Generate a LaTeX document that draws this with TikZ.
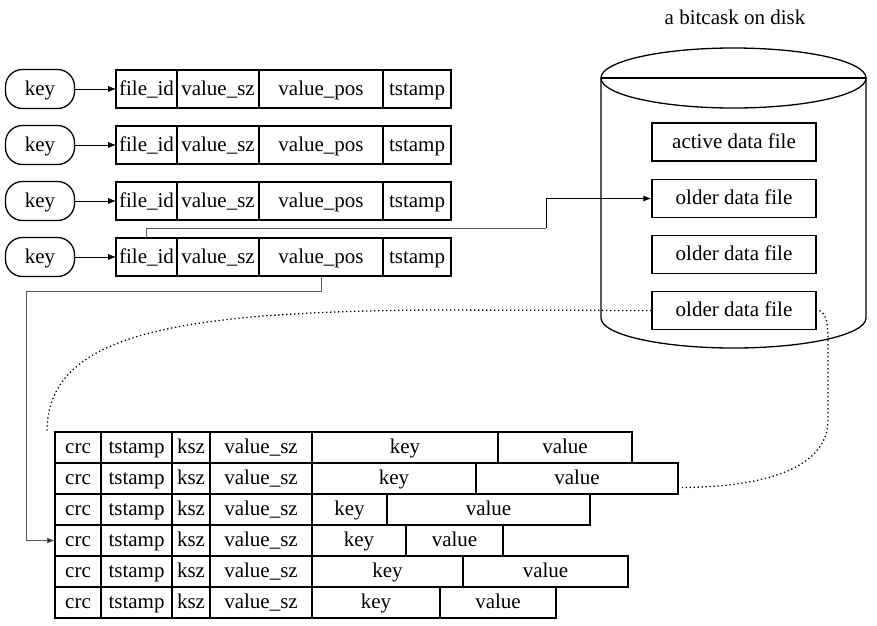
\documentclass[tikz,border=0pt]{standalone}
\usepackage{fontspec}
\setmainfont{Liberation Serif}
\usetikzlibrary{positioning,arrows.meta}

\begin{document}
\begin{tikzpicture}[x=1pt,y=-1pt,>={Latex[length=8pt,width=6pt]},
    every node/.style={font=\fontsize{21pt}{24pt}\selectfont,text height=15pt,text depth=3pt},
    keybox/.style={draw,line width=1.3pt,rounded corners=17pt,minimum width=69pt,minimum height=39pt},
    cell/.style={draw,line width=1.2pt,inner sep=0pt,outer sep=0pt,minimum height=38pt},
    rec/.style={draw,line width=1.2pt,inner sep=0pt,outer sep=0pt,minimum height=31pt},
    filebox/.style={draw,line width=1.2pt,minimum width=164pt,minimum height=38pt},
    dotline/.style={line width=1.3pt,dash pattern=on 1.3pt off 2.7pt}]
    \useasboundingbox (0,0) rectangle (877,625);

    % keydir
    \foreach \i/\y in {1/89,2/145,3/201,4/257} {
      \node[keybox] (key\i) at (40,\y) {key};
      \node[cell,minimum width=61pt] (fid\i) at (146.5,\y) {file\_id};
      \node[cell,minimum width=82pt,right=0pt of fid\i] (vsz\i) {value\_sz};
      \node[cell,minimum width=124pt,right=0pt of vsz\i] (vpos\i) {value\_pos};
      \node[cell,minimum width=68pt,right=0pt of vpos\i] (ts\i) {tstamp};
      \draw[->] (key\i) -- (fid\i);
    }

    % disk
    \node (title) at (735,18) {a bitcask on disk};
    \draw[line width=1.3pt] (733.5,78) ellipse [x radius=132.5,y radius=30];
    \draw[line width=1.3pt] (601,78) -- (866,78);
    \draw[line width=1.3pt] (601,78) -- (601,318)
      arc[start angle=180,end angle=0,x radius=132.5,y radius=30] -- (866,78);
    \node[filebox] (active) at (734,142) {active data file};
    \node[filebox] (older1) at (734,198.5) {older data file};
    \node[filebox] (older2) at (734,254.5) {older data file};
    \node[filebox] (older3) at (734,310.5) {older data file};

    % entries in the data file
    \foreach \i/\y/\kw/\vw in {1/447.5/186/134,2/478.5/164/202,3/509.5/75/203,
                              4/540.5/94/97,5/571.5/151/165,6/602.5/128/116} {
      \node[rec,minimum width=46pt] (rcrc\i) at (78,\y) {crc};
      \node[rec,minimum width=71pt,right=0pt of rcrc\i] (rts\i) {tstamp};
      \node[rec,minimum width=38pt,right=0pt of rts\i] (rksz\i) {ksz};
      \node[rec,minimum width=102pt,right=0pt of rksz\i] (rvsz\i) {value\_sz};
      \node[rec,minimum width=\kw pt,right=0pt of rvsz\i] (rkey\i) {key};
      \node[rec,minimum width=\vw pt,right=0pt of rkey\i] (rval\i) {value};
    }

    % pointers
    \coordinate (bend1) at (546,228);
    \coordinate (bend2) at (26,291);
    \draw[gray!70!black,line width=1pt] (fid4.north) |- (bend1);
    \draw[->,line width=1pt] (bend1) |- (older1.west);
    \draw[gray!70!black,line width=1pt] (vpos4.south) |- (bend2);
    \draw[gray!70!black,line width=1pt,-{Latex[length=8pt,width=6pt,fill=black]}]
      (bend2) |- (rcrc4.west);

    \coordinate (dstart) at ([xshift=-8pt]rcrc1.north west);
    \coordinate (dend) at ([xshift=4pt,yshift=-9pt]rval2.east);
    \draw[dotline] (older3.west) -- (430,310)
      .. controls (170,312) and (47,335) .. (dstart);
    \draw[dotline] ([xshift=3pt]older3.east) .. controls (829,316) and (828,330) .. (828,360)
      -- (828,420) .. controls (828,470) and (760,487) .. (dend);
\end{tikzpicture}
\end{document}
